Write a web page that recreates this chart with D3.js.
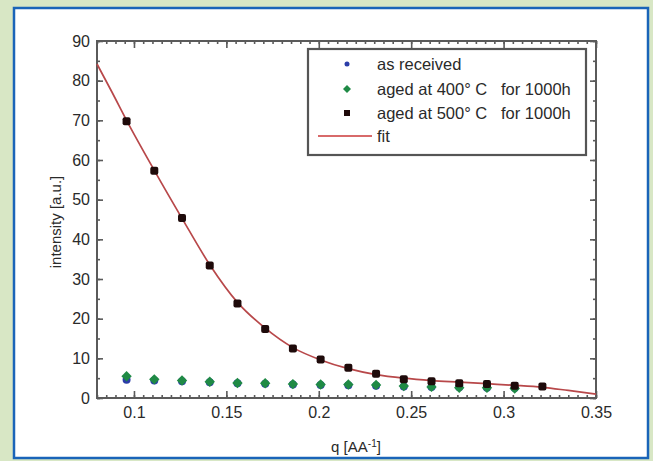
<!DOCTYPE html>
<html><head><meta charset="utf-8">
<script src="https://cdn.jsdelivr.net/npm/d3@7"></script>
<style>
html,body{margin:0;padding:0;background:#d8e7c5;}
svg{display:block;}
text{font-family:"Liberation Sans",Arial,sans-serif;}
</style></head>
<body>
<svg id="c" width="653" height="461"></svg>
<script>
// ---- data ----
const qValues = [0.096,0.111,0.126,0.141,0.156,0.171,0.186,0.201,0.216,0.231,0.246,0.261,0.276,0.291,0.306,0.321];
const asReceived = [4.6,4.4,4.2,4.0,3.7,3.6,3.4,3.3,3.2,3.1,2.9,2.8,2.7,2.6,2.5];
const aged400 = [5.5,4.7,4.4,4.1,3.8,3.7,3.5,3.4,3.4,3.3,3.0,2.8,2.6,2.6,2.4];
const aged500 = [69.8,57.3,45.4,33.4,23.8,17.4,12.5,9.7,7.6,6.1,4.7,4.2,3.7,3.5,3.1,2.9];
const fitQ = [0.08,0.088,0.096,0.111,0.126,0.141,0.156,0.171,0.186,0.201,0.216,0.231,0.246,0.261,0.276,0.291,0.306,0.321,0.335,0.35];
const fitI = [84.2,77.2,70.0,57.4,45.3,33.6,24.1,17.6,12.7,9.6,7.4,5.9,5.0,4.4,4.0,3.6,3.2,2.7,1.9,1.0];
const xTicks = [0.1,0.15,0.2,0.25,0.3,0.35];
const yTicks = [0,10,20,30,40,50,60,70,80,90];
const legendLabels = ["as received","aged at 400\u00B0 C   for 1000h","aged at 500\u00B0 C   for 1000h","fit"];

const svg = d3.select("#c");
// panel
svg.append("rect").attr("x",14).attr("y",8).attr("width",634).attr("height",450)
  .attr("fill","#fff").attr("stroke","#1a64b8").attr("stroke-width",2.5);

const L=97,R=596,T=41,B=398;
const x = d3.scaleLinear().domain([0.08,0.35]).range([L,R]);
const y = d3.scaleLinear().domain([0,90]).range([B,T]);
const axisCol = "#5a5a5a";
const fmt = d => String(+d.toFixed(2));

function styleAxis(g){
  g.select(".domain").remove();
  g.selectAll("line").attr("stroke",axisCol).attr("stroke-width",1.6);
  g.selectAll("text").attr("fill","#2a2a2a").attr("font-size",16);
}
const minorX = d3.range(0.08,0.3501,0.005);
const minorY = d3.range(0,90.1,5);
// bottom
svg.append("g").attr("transform",`translate(0,${B})`)
  .call(d3.axisBottom(x).tickValues(minorX).tickSize(-3).tickFormat("")).call(styleAxis);
svg.append("g").attr("transform",`translate(0,${B})`)
  .call(d3.axisBottom(x).tickValues(xTicks).tickSizeInner(-7).tickSizeOuter(0).tickPadding(9).tickFormat(fmt)).call(styleAxis);
// top
svg.append("g").attr("transform",`translate(0,${T})`)
  .call(d3.axisTop(x).tickValues(minorX).tickSize(-3).tickFormat("")).call(styleAxis);
svg.append("g").attr("transform",`translate(0,${T})`)
  .call(d3.axisTop(x).tickValues(xTicks).tickSize(-7).tickFormat("")).call(styleAxis);
// left
svg.append("g").attr("transform",`translate(${L},0)`)
  .call(d3.axisLeft(y).tickValues(minorY).tickSize(-3).tickFormat("")).call(styleAxis);
svg.append("g").attr("transform",`translate(${L},0)`)
  .call(d3.axisLeft(y).tickValues(yTicks).tickSizeInner(-6).tickSizeOuter(0).tickPadding(7).tickFormat(d3.format("d"))).call(styleAxis);
// right
svg.append("g").attr("transform",`translate(${R},0)`)
  .call(d3.axisRight(y).tickValues(minorY).tickSize(-3).tickFormat("")).call(styleAxis);
svg.append("g").attr("transform",`translate(${R},0)`)
  .call(d3.axisRight(y).tickValues(yTicks).tickSize(-6).tickFormat("")).call(styleAxis);
// box
svg.append("rect").attr("x",L).attr("y",T).attr("width",R-L).attr("height",B-T)
  .attr("fill","none").attr("stroke",axisCol).attr("stroke-width",2);

// markers
const blueC="#2b3da8", greenC="#1f8a45", blackC="#1e0a0a", fitC="#b8484a";
function diamondPath(cx,cy,r){return `M${cx},${cy-r}L${cx+r},${cy}L${cx},${cy+r}L${cx-r},${cy}Z`;}
svg.append("g").selectAll("circle").data(asReceived).join("circle")
  .attr("cx",(d,i)=>x(qValues[i])).attr("cy",d=>y(d)).attr("r",4).attr("fill",blueC);

// fit line
const fitData = fitQ.map((q,i)=>[q,fitI[i]]);
svg.append("path").datum(fitData)
  .attr("d",d3.line().x(d=>x(d[0])).y(d=>y(d[1])).curve(d3.curveMonotoneX))
  .attr("fill","none").attr("stroke",fitC).attr("stroke-width",1.7);

svg.append("g").selectAll("path").data(aged400).join("path")
  .attr("d",(d,i)=>diamondPath(x(qValues[i]),y(d),5.2)).attr("fill",greenC);
svg.append("g").selectAll("rect").data(aged500).join("rect")
  .attr("x",(d,i)=>x(qValues[i])-4).attr("y",d=>y(d)-4).attr("width",8).attr("height",8)
  .attr("rx",2).attr("fill",blackC);

// axis labels
svg.append("text").attr("transform","translate(61,222) rotate(-90)").attr("text-anchor","middle")
  .attr("font-size",15).attr("fill","#2a2a2a").text("intensity [a.u.]");
const xl = svg.append("text").attr("x",356).attr("y",452).attr("text-anchor","middle")
  .attr("font-size",15).attr("fill","#2a2a2a");
xl.append("tspan").text("q [AA");
xl.append("tspan").attr("dy",-5).attr("font-size",10).text("-1");
xl.append("tspan").attr("dy",5).text("]");

// legend
const lg = svg.append("g");
lg.append("rect").attr("x",308).attr("y",49).attr("width",278).attr("height",106)
  .attr("fill","#fff").attr("stroke","#555").attr("stroke-width",2.2);
const rowY = [64,89,113,136];
lg.append("circle").attr("cx",347).attr("cy",rowY[0]).attr("r",2.5).attr("fill",blueC);
lg.append("path").attr("d",diamondPath(347,rowY[1],4)).attr("fill",greenC);
lg.append("rect").attr("x",344).attr("y",rowY[2]-3).attr("width",6).attr("height",6).attr("fill",blackC);
lg.append("line").attr("x1",318).attr("x2",372).attr("y1",rowY[3]).attr("y2",rowY[3])
  .attr("stroke","#d86a6a").attr("stroke-width",1.8);
lg.selectAll("text.l").data(legendLabels).join("text").attr("class","l")
  .attr("x",377).attr("y",(d,i)=>rowY[i]+6).attr("font-size",16.5).attr("fill","#2a2a2a")
  .attr("xml:space","preserve").style("white-space","pre").text(d=>d);
</script>
</body></html>
